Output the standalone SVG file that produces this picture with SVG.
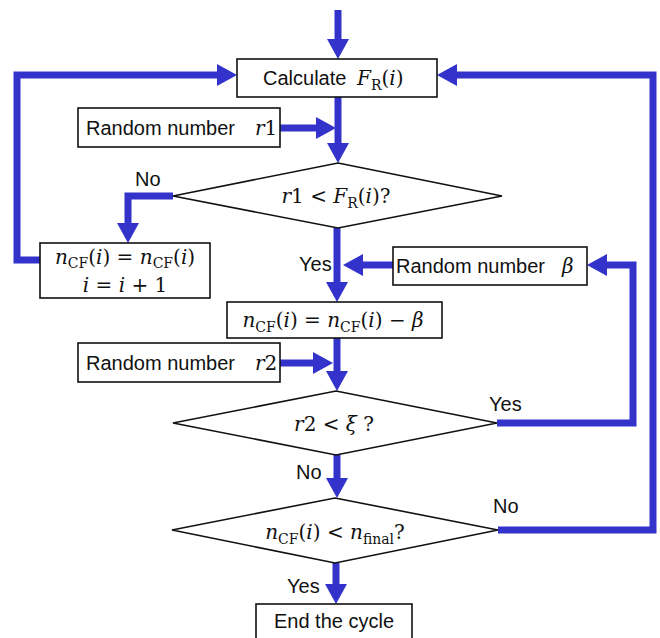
<svg xmlns="http://www.w3.org/2000/svg" width="660" height="638" viewBox="0 0 660 638">
<defs>
<marker id="ah" markerUnits="userSpaceOnUse" viewBox="0 -11 20 22" markerWidth="20" markerHeight="22" refX="0" refY="0" orient="auto">
<path d="M0,-11 L20,0 L0,11 z" fill="#3333cc"/>
</marker>
<style>
.box{fill:#fff;stroke:#111;stroke-width:1.6}
.dia{fill:#fff;stroke:#111;stroke-width:1.6}
.c{fill:none;stroke:#3333cc;stroke-width:7;stroke-linejoin:miter;stroke-linecap:butt}
.a{marker-end:url(#ah)}
.t{font-family:"Liberation Sans",Arial,sans-serif;font-size:20px;fill:#111}
.m{font-family:"DejaVu Serif","Liberation Serif",serif;font-size:20px;fill:#111}
.i{font-style:italic}
.s{font-size:14px}
</style>
</defs>
<rect width="660" height="638" fill="#fff"/>

<g id="connectors">
<path class="c a" d="M338,10 V39"/>
<path class="c a" d="M40,260 H17 V75 H217"/>
<path class="c a" d="M498,530 H653 V75 H457"/>
<path class="c a" d="M338,97 V143"/>
<path class="c a" d="M280,128 H316"/>
<path class="c a" d="M173,196 H128 V223"/>
<path class="c a" d="M337,228 V282"/>
<path class="c a" d="M393,265 H363"/>
<path class="c a" d="M497,423 H633 V265 H607"/>
<path class="c a" d="M337,338 V371"/>
<path class="c a" d="M280,363 H313"/>
<path class="c a" d="M337,455 V478"/>
<path class="c a" d="M336,563 V584"/>
</g>

<g id="calc">
<rect class="box" x="237" y="59" width="200" height="38"/>
<text class="t" x="263" y="85">Calculate</text>
<text class="m" x="357" y="85"><tspan class="i">F</tspan><tspan class="s" dy="5">R</tspan><tspan dy="-5">(</tspan><tspan class="i">i</tspan>)</text>
</g>

<g id="rand-r1">
<rect class="box" x="78" y="108" width="202" height="39"/>
<text class="t" x="86" y="135">Random number</text>
<text class="m" x="255" y="135"><tspan class="i">r</tspan>1</text>
</g>

<g id="dec1">
<polygon class="dia" points="338,163 502,196 338,228 173,196"/>
<text class="m" x="336" y="203" text-anchor="middle"><tspan class="i">r</tspan>1 &lt; <tspan class="i">F</tspan><tspan class="s" dy="5">R</tspan><tspan dy="-5">(</tspan><tspan class="i">i</tspan>)?</text>
</g>

<g id="lbl-no1"><text class="t" x="135" y="186">No</text></g>

<g id="inc">
<rect class="box" x="40" y="243" width="170" height="55"/>
<text class="m" x="125" y="264" text-anchor="middle"><tspan class="i">n</tspan><tspan class="s" dy="4">CF</tspan><tspan dy="-4">(</tspan><tspan class="i">i</tspan>) = <tspan class="i">n</tspan><tspan class="s" dy="4">CF</tspan><tspan dy="-4">(</tspan><tspan class="i">i</tspan>)</text>
<text class="m" x="125" y="292" text-anchor="middle"><tspan class="i">i</tspan> = <tspan class="i">i</tspan> + 1</text>
</g>

<g id="lbl-yes1"><text class="t" x="299" y="271">Yes</text></g>

<g id="rand-beta">
<rect class="box" x="393" y="247" width="194" height="38"/>
<text class="t" x="396" y="273">Random number</text>
<text class="m i" x="562" y="273">β</text>
</g>

<g id="update">
<rect class="box" x="227" y="302" width="215" height="36"/>
<text class="m" x="333" y="327" text-anchor="middle"><tspan class="i">n</tspan><tspan class="s" dy="5">CF</tspan><tspan dy="-5">(</tspan><tspan class="i">i</tspan>) = <tspan class="i">n</tspan><tspan class="s" dy="5">CF</tspan><tspan dy="-5">(</tspan><tspan class="i">i</tspan>) − <tspan class="i">β</tspan></text>
</g>

<g id="rand-r2">
<rect class="box" x="78" y="343" width="202" height="39"/>
<text class="t" x="86" y="370">Random number</text>
<text class="m" x="255" y="370"><tspan class="i">r</tspan>2</text>
</g>

<g id="dec2">
<polygon class="dia" points="336,391 497,423 336,455 173,423"/>
<text class="m" x="334" y="431" text-anchor="middle"><tspan class="i">r</tspan>2 &lt; <tspan class="i">ξ</tspan> ?</text>
</g>

<g id="lbl-yes2"><text class="t" x="489" y="411">Yes</text></g>
<g id="lbl-no2"><text class="t" x="296" y="479">No</text></g>

<g id="dec3">
<polygon class="dia" points="335,498 498,530 335,563 172,530"/>
<text class="m" x="335" y="539" text-anchor="middle"><tspan class="i">n</tspan><tspan class="s" dy="5">CF</tspan><tspan dy="-5">(</tspan><tspan class="i">i</tspan>) &lt; <tspan class="i">n</tspan><tspan class="s" dy="5">final</tspan><tspan dy="-5">?</tspan></text>
</g>

<g id="lbl-no3"><text class="t" x="493" y="513">No</text></g>
<g id="lbl-yes3"><text class="t" x="287" y="593">Yes</text></g>

<g id="end">
<rect class="box" x="256" y="604" width="156" height="40"/>
<text class="t" x="334" y="628" text-anchor="middle">End the cycle</text>
</g>
</svg>
